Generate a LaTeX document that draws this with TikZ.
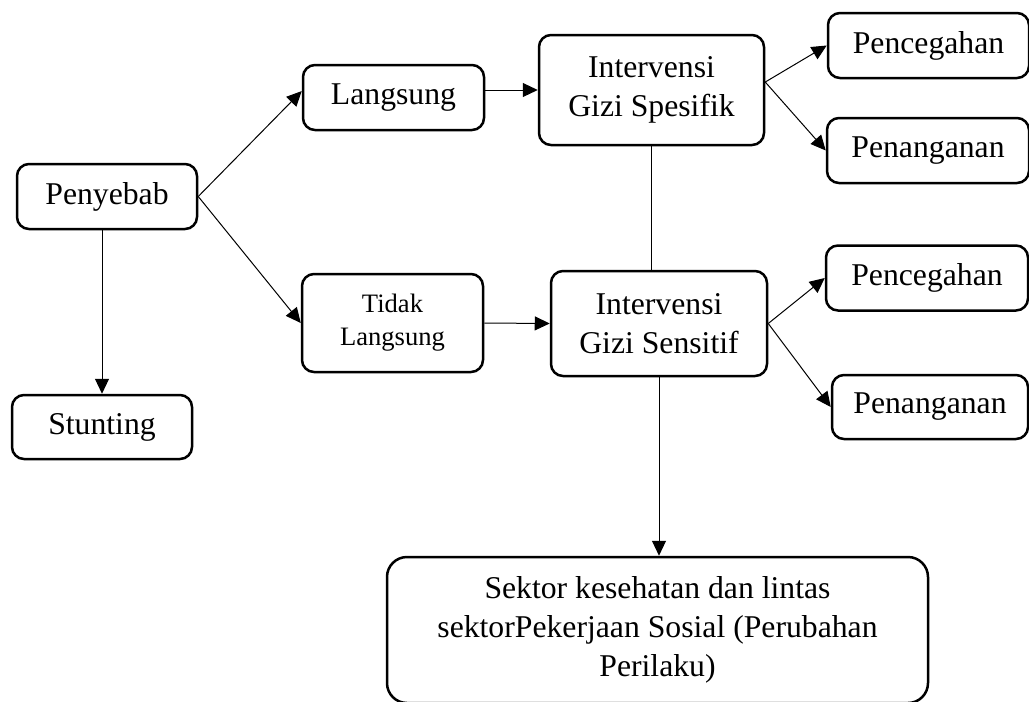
\documentclass[tikz,border=0pt]{standalone}
\usepackage{fontspec}
\setmainfont{Liberation Serif}
\usetikzlibrary{arrows.meta}
\begin{document}
\begin{tikzpicture}[x=0.5pt, y=-0.5pt,
        box/.style={draw, line width=1.25pt, rounded corners=6pt, align=center, inner sep=2pt,
            font=\fontsize{15.85}{19.5}\selectfont},
        arr/.style={-{Triangle[length=7.5pt, width=7pt]}, line width=0.5pt}]
        \useasboundingbox (0,0) rectangle (1029,702);

        \node[box, minimum width=90pt, minimum height=32.5pt] (peny) at (107,196.5) {Penyebab};
        \node[box, minimum width=90pt, minimum height=32pt] (stunt) at (102,427) {Stunting};
        \node[box, minimum width=90.5pt, minimum height=32.5pt] (lang) at (393.5,97.5) {Langsung};
        \node[box, minimum width=90.5pt, minimum height=49pt, font=\fontsize{13.3}{16.5}\selectfont] (tidak) at (392.5,323) {Tidak\\Langsung};
        \node[box, minimum width=112.5pt, minimum height=55pt] (spes) at (651.5,90) {Intervensi\\Gizi Spesifik};
        \node[box, minimum width=108pt, minimum height=52.5pt] (sens) at (659,323.5) {Intervensi\\Gizi Sensitif};
        \node[box, minimum width=100.5pt, minimum height=32.5pt] (cegah1) at (928.5,45.5) {Pencegahan};
        \node[box, minimum width=101pt, minimum height=32.5pt] (tangan1) at (928,150.5) {Penanganan};
        \node[box, minimum width=101pt, minimum height=32.5pt] (cegah2) at (927,278) {Pencegahan};
        \node[box, minimum width=98pt, minimum height=32pt] (tangan2) at (930,407) {Penanganan};
        \node[box, rounded corners=10pt, minimum width=270.5pt, minimum height=73pt] (sektor) at (657.5,630)
            {Sektor kesehatan dan lintas\\sektorPekerjaan Sosial (Perubahan\\Perilaku)};

        \draw[arr] (peny.east) -- (lang.176);
        \draw[arr] (peny.east) -- (tidak.west);
        \draw[arr] (stunt.north |- peny.south) -- (stunt.north);
        \draw[arr] (lang.east |- spes.west) -- (spes.west);
        \draw[arr] (tidak.east) -- (sens.west);
        \draw[arr] (spes.4) -- (cegah1.west);
        \draw[arr] (spes.4) -- (tangan1.west);
        \draw[arr] (sens.east) -- (cegah2.west);
        \draw[arr] (sens.east) -- (tangan2.west);
        \draw[line width=0.5pt] (spes.south) -- (spes.south |- sens.north);
        \draw[arr] (sens.south) -- (sens.south |- sektor.north);
    \end{tikzpicture}
\end{document}
